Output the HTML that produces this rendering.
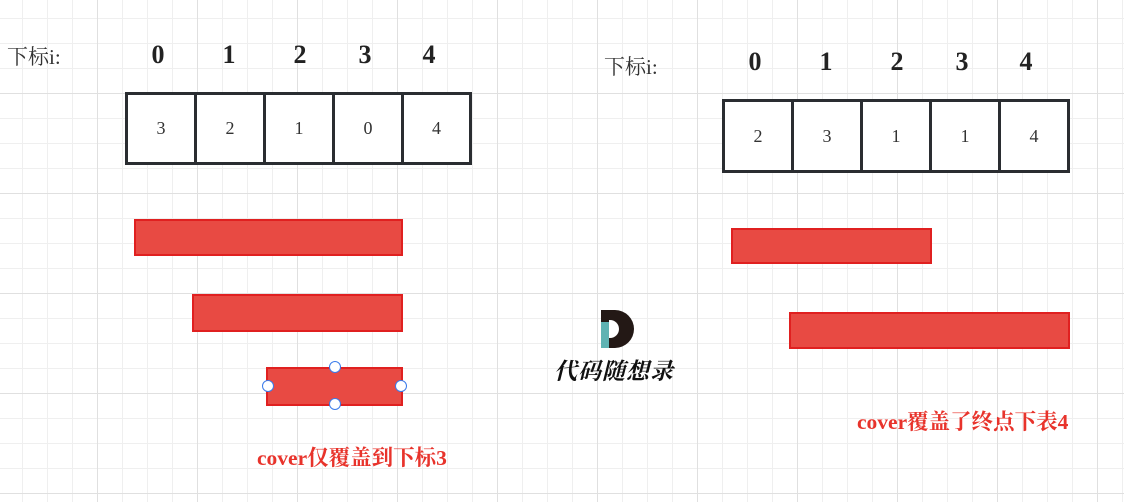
<!DOCTYPE html>
<html><head><meta charset="utf-8"><style>
body{margin:0;width:1124px;height:502px;overflow:hidden;background:#fff;
background-image:linear-gradient(#e0e0e0 1px,transparent 1px),linear-gradient(90deg,#e0e0e0 1px,transparent 1px),linear-gradient(#efefef 1px,transparent 1px),linear-gradient(90deg,#efefef 1px,transparent 1px);
background-size:100px 100px,100px 100px,25px 25px,25px 25px;background-position:0 -7px,-3px 0,0 -7px,-3px 0;
font-family:"Liberation Serif","Noto Serif CJK SC",serif;position:relative}
.a{position:absolute}
.idx{position:absolute;font-weight:bold;font-size:26px;color:#222;width:40px;text-align:center}
.cell{position:absolute;border:3px solid #2a2d31;box-sizing:border-box;display:flex;align-items:center;justify-content:center;font-size:18px;color:#333;background:#fff}
.bar{position:absolute;background:#e84a43;border:2px solid #e02020;box-sizing:border-box}
.h{position:absolute;width:10px;height:10px;border:1.5px solid #3b7bea;border-radius:50%;background:#fff}
.lab{position:absolute;color:#e8332b;font-weight:bold;font-size:21.5px}
</style></head><body>
<div class="a" style="left:7px;top:41px;font-size:21px;color:#333">下标i:</div>
<div class="idx" style="left:138px;top:40px">0</div><div class="idx" style="left:209px;top:40px">1</div><div class="idx" style="left:280px;top:40px">2</div><div class="idx" style="left:345px;top:40px">3</div><div class="idx" style="left:409px;top:40px">4</div>
<div class="cell" style="left:125px;top:92px;width:72px;height:73px">3</div>
<div class="cell" style="left:194px;top:92px;width:72px;height:73px">2</div>
<div class="cell" style="left:263px;top:92px;width:72px;height:73px">1</div>
<div class="cell" style="left:332px;top:92px;width:72px;height:73px">0</div>
<div class="cell" style="left:401px;top:92px;width:71px;height:73px">4</div>
<div class="bar" style="left:134px;top:219px;width:269px;height:37px"></div>
<div class="bar" style="left:192px;top:294px;width:211px;height:38px"></div>
<div class="bar" style="left:266px;top:367px;width:137px;height:39px"></div>
<div class="h" style="left:329px;top:361px"></div><div class="h" style="left:329px;top:398px"></div>
<div class="h" style="left:262px;top:380px"></div><div class="h" style="left:395px;top:380px"></div>
<div class="lab" style="left:257px;top:441px">cover仅覆盖到下标3</div>

<div class="a" style="left:604px;top:51px;font-size:21px;color:#333">下标i:</div>
<div class="idx" style="left:735px;top:47px">0</div><div class="idx" style="left:806px;top:47px">1</div><div class="idx" style="left:877px;top:47px">2</div><div class="idx" style="left:942px;top:47px">3</div><div class="idx" style="left:1006px;top:47px">4</div>
<div class="cell" style="left:722px;top:99px;width:72px;height:74px">2</div>
<div class="cell" style="left:791px;top:99px;width:72px;height:74px">3</div>
<div class="cell" style="left:860px;top:99px;width:72px;height:74px">1</div>
<div class="cell" style="left:929px;top:99px;width:72px;height:74px">1</div>
<div class="cell" style="left:998px;top:99px;width:72px;height:74px">4</div>
<div class="bar" style="left:731px;top:228px;width:201px;height:36px"></div>
<div class="bar" style="left:789px;top:312px;width:281px;height:37px"></div>
<div class="lab" style="left:857px;top:405px">cover覆盖了终点下表4</div>

<div class="a" style="left:601px;top:310px;width:33px;height:38px">
<div class="a" style="left:0;top:0;width:8px;height:38px;background:#5fb3b3"></div>
<div class="a" style="left:0;top:0;width:8px;height:12px;background:#231815"></div>
<div class="a" style="left:8px;top:0;width:25px;height:38px;background:#231815;border-radius:0 19px 19px 0"></div>
<div class="a" style="left:8px;top:10px;width:10px;height:18px;background:#fff;border-radius:0 9px 9px 0"></div>
</div>
<div class="a" style="left:554px;top:353px;font-size:23px;font-weight:bold;color:#111;letter-spacing:1px;font-family:'Noto Serif CJK SC',serif;font-style:italic">代码随想录</div>
</body></html>
